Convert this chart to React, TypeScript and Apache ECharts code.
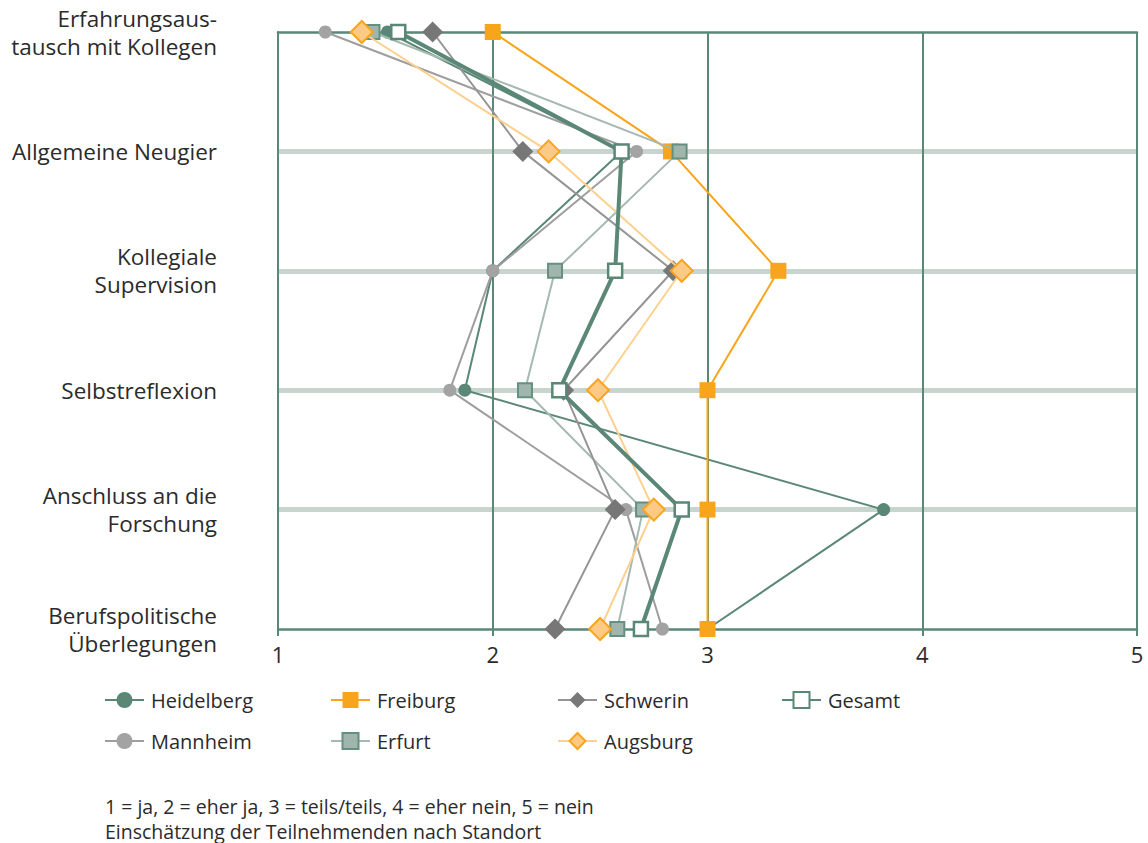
import React, { useEffect, useRef } from "react";
import * as echarts from "echarts";

const categories = [
  "Erfahrungsaus-\ntausch mit Kollegen",
  "Allgemeine Neugier",
  "Kollegiale\nSupervision",
  "Selbstreflexion",
  "Anschluss an die\nForschung",
  "Berufspolitische\nÜberlegungen",
];
const xTicks = [1, 2, 3, 4, 5];

const heidelberg = [1.51, 2.6, 2.0, 1.87, 3.82, 3.0];
const freiburg = [2.0, 2.83, 3.33, 3.0, 3.0, 3.0];
const schwerin = [1.72, 2.14, 2.84, 2.33, 2.57, 2.29];
const gesamt = [1.56, 2.6, 2.57, 2.31, 2.88, 2.69];
const mannheim = [1.22, 2.67, 2.0, 1.8, 2.62, 2.79];
const erfurt = [1.44, 2.87, 2.29, 2.15, 2.7, 2.58];
const augsburg = [1.39, 2.26, 2.88, 2.49, 2.75, 2.5];

const footnotes = [
  "1 = ja, 2 = eher ja, 3 = teils/teils, 4 = eher nein, 5 = nein",
  "Einschätzung der Teilnehmenden nach Standort",
];

const GREEN = "#5b8777";
const LIGHT = "#c8d5cf";
const ORANGE = "#f8a51b";
const FONT = "'Open Sans', 'Noto Sans', sans-serif";

export default function App() {
  const ref = useRef<HTMLDivElement>(null);
  useEffect(() => {
    if (!ref.current) return;
    const chart = echarts.init(ref.current, undefined, { renderer: "svg" });

    const mk = (
      name: string,
      data: number[],
      symbol: string,
      size: number,
      lineColor: string,
      lineWidth: number,
      fill: string,
      border: string,
      borderWidth: number,
      z: number
    ) => ({
      name,
      type: "line",
      data,
      symbol,
      symbolSize: size,
      z,
      lineStyle: { color: lineColor, width: lineWidth },
      itemStyle: { color: fill, borderColor: border, borderWidth, opacity: 1 },
      emphasis: { disabled: true },
    });

    const series = [
      mk("Heidelberg", heidelberg, "circle", 13, GREEN, 2, GREEN, GREEN, 0, 2),
      mk("Mannheim", mannheim, "circle", 13, "#9e9e9e", 2, "#a3a3a3", "#a3a3a3", 0, 3),
      mk("Freiburg", freiburg, "rect", 16, ORANGE, 2, ORANGE, ORANGE, 0, 4),
      mk("Erfurt", erfurt, "rect", 14, "#a5b9b0", 2, "#a0b5ad", "#64907f", 2, 5),
      mk("Schwerin", schwerin, "diamond", 21, "#959595", 2, "#777777", "#777777", 0, 6),
      mk("Augsburg", augsburg, "diamond", 22, "#fdd08e", 2, "#fdca85", ORANGE, 2, 7),
      mk("Gesamt", gesamt, "rect", 14, GREEN, 4, "#ffffff", GREEN, 2.5, 8),
    ];

    const legendPos: Record<string, [number, number]> = {
      Heidelberg: [99, 685],
      Freiburg: [325, 685],
      Schwerin: [552, 685],
      Gesamt: [776, 685],
      Mannheim: [99, 726],
      Erfurt: [325, 726],
      Augsburg: [552, 726],
    };

    const legends = Object.keys(legendPos).map((n) => ({
      data: [n],
      left: legendPos[n][0],
      top: legendPos[n][1],
      itemWidth: 39,
      itemHeight: 20,
      selectedMode: false,
      textStyle: {
        fontFamily: FONT,
        fontSize: 20,
        color: "#2b2b2b",
        padding: [0, 0, 0, 2],
      },
    }));

    chart.setOption({
      animation: false,
      grid: { left: 278, right: 11, top: 32, bottom: 214 },
      xAxis: [
        {
          type: "value",
          min: xTicks[0],
          max: xTicks[xTicks.length - 1],
          interval: 1,
          position: "bottom",
          axisLine: { show: true, lineStyle: { color: GREEN, width: 2.5 } },
          axisTick: { show: true, length: 7, lineStyle: { color: GREEN, width: 2 } },
          axisLabel: {
            fontFamily: FONT,
            fontSize: 22,
            color: "#2b2b2b",
            margin: 14,
          },
          splitLine: { show: true, lineStyle: { color: GREEN, width: 2 } },
        },
        {
          type: "value",
          min: xTicks[0],
          max: xTicks[xTicks.length - 1],
          interval: 1,
          position: "top",
          axisLine: { show: true, lineStyle: { color: GREEN, width: 2.5 } },
          axisTick: { show: false },
          axisLabel: { show: false },
          splitLine: { show: false },
        },
      ],
      yAxis: {
        type: "category",
        data: categories,
        inverse: true,
        boundaryGap: false,
        axisLine: { show: true, lineStyle: { color: GREEN, width: 2 } },
        axisTick: { show: false },
        axisLabel: {
          fontFamily: FONT,
          fontSize: 22.5,
          lineHeight: 28,
          color: "#2b2b2b",
          margin: 61,
          align: "right",
        },
        splitLine: {
          show: true,
          lineStyle: {
            color: ["transparent", LIGHT, LIGHT, LIGHT, LIGHT, "transparent"],
            width: 5,
          },
        },
      },
      legend: legends,
      series,
      graphic: footnotes.map((t, i) => ({
        type: "text",
        x: 105,
        y: 806 + i * 25,
        style: {
          text: t,
          fontFamily: FONT,
          fontSize: 19.5,
          fill: "#2b2b2b",
          verticalAlign: "middle",
        },
      })),
    });
    return () => chart.dispose();
  }, []);

  return (
    <div
      ref={ref}
      style={{ position: "absolute", left: 0, top: 0, width: 1148, height: 843 }}
    />
  );
}
